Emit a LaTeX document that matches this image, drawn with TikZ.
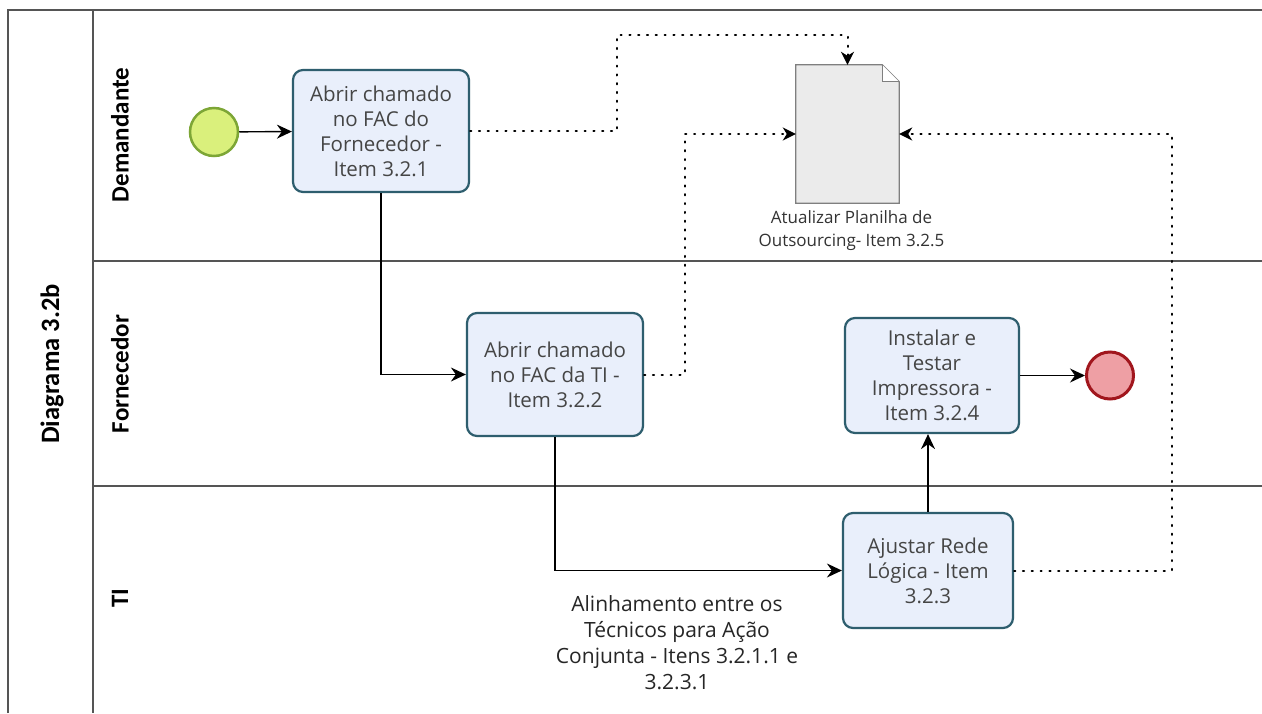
\documentclass[tikz,border=0pt]{standalone}
\usepackage{fontspec}
\setmainfont{Open Sans}
\newfontfamily\lanefont{Carlito}
\usetikzlibrary{arrows.meta,calc}

\definecolor{taskfill}{HTML}{E9EFFB}
\definecolor{taskdraw}{HTML}{2E5E6E}
\definecolor{tasktext}{HTML}{454545}
\definecolor{startfill}{HTML}{DAF07C}
\definecolor{startdraw}{HTML}{7DA636}
\definecolor{endfill}{HTML}{EE9FA4}
\definecolor{enddraw}{HTML}{A1161D}
\definecolor{docfill}{HTML}{EBEBEB}
\definecolor{docdraw}{HTML}{7F7F7F}
\definecolor{poolline}{HTML}{555555}

\tikzset{
  task/.style={draw=taskdraw, fill=taskfill, line width=2.2pt, rounded corners=10pt,
    align=center, text=tasktext, inner sep=0pt,
    font=\fontsize{20.5}{25}\selectfont},
  startev/.style={circle, draw=startdraw, fill=startfill, line width=2.5pt,
    minimum size=48pt, inner sep=0pt},
  endev/.style={circle, draw=enddraw, fill=endfill, line width=3pt,
    minimum size=47pt, inner sep=0pt},
  flow/.style={draw=black, line width=1.4pt,
    -{Stealth[length=15pt,width=14pt,inset=5pt]}},
  assoc/.style={draw=black, line width=2pt, line cap=round,
    dash pattern=on 1.2pt off 7.6pt,
    -{Stealth[length=13pt,width=13pt,inset=4pt]}},
  lane/.style={rotate=90, font=\lanefont\bfseries\fontsize{25}{28}\selectfont, text=black},
  lanesep/.style={draw=poolline, line width=1.2pt},
  notelabel/.style={align=center, text=black!85, font=\fontsize{21}{26}\selectfont},
  doclabel/.style={align=center, text=black!80, font=\fontsize{17}{23}\selectfont}
}

\begin{document}
\begin{tikzpicture}[x=1pt, y=-1pt]
  \useasboundingbox[fill=white] (0,0) rectangle (1262,713);

  % pool and lanes
  \draw[poolline, line width=2.2pt] (8,713) -- (8,10) -- (1262,10);
  \draw[lanesep] (93,10) -- (93,713);
  \draw[lanesep] (93,261) -- (1262,261);
  \draw[lanesep] (93,486) -- (1262,486);

  \node[lane, font=\lanefont\bfseries\fontsize{26.5}{28}\selectfont] (pool) at (52,364) {Diagrama 3.2b};
  \node[lane] (lanedem) at (120,135) {Demandante};
  \node[lane] (lanefor) at (120,374) {Fornecedor};
  \node[lane] (laneti) at (120,598) {TI};

  % events
  \node[startev] (start) at (214,132) {};
  \node[endev] (end) at (1110,375.5) {};

  % tasks
  \node[task, minimum width=176pt, minimum height=122pt] (t1) at (381,131)
    {Abrir chamado\\no FAC do\\Fornecedor -\\Item 3.2.1};
  \node[task, minimum width=176pt, minimum height=123pt] (t2) at (555,374.5)
    {Abrir chamado\\no FAC da TI -\\Item 3.2.2};
  \node[task, minimum width=174pt, minimum height=115pt] (t4) at (932,375.5)
    {Instalar e\\Testar\\Impressora -\\Item 3.2.4};
  \node[task, minimum width=170pt, minimum height=115pt] (t3) at (928,570.5)
    {Ajustar Rede\\L\'ogica - Item\\3.2.3};

  % data object
  \node[minimum width=103pt, minimum height=138pt, inner sep=0pt] (doc) at (847.5,134) {};
  \draw[draw=docdraw, fill=docfill, line width=1.3pt]
    (doc.north west) -- ($(doc.north east)+(-17,0)$) -- ($(doc.north east)+(0,17)$)
    -- (doc.south east) -- (doc.south west) -- cycle;
  \draw[draw=docdraw, fill=white, line width=1.1pt]
    ($(doc.north east)+(-17,0)$) -- ($(doc.north east)+(-17,17)$) -- ($(doc.north east)+(0,17)$);
  \node[doclabel, anchor=north] (doctext) at ($(doc.south)+(4,4)$)
    {Atualizar Planilha de\\Outsourcing- Item 3.2.5};

  % sequence flows
  \draw[flow] (start) -- (t1);
  \draw[flow] (t1.south) |- (t2.west);
  \draw[flow] (t2.south) |- (t3.west);
  \draw[flow] (t3.north) -- (t3.north |- t4.south);
  \draw[flow] (t4.east) -- (end.west);

  \node[notelabel] (note) at (677,643)
    {Alinhamento entre os\\T\'ecnicos para A\c{c}\~ao\\Conjunta - Itens 3.2.1.1 e\\3.2.3.1};

  % associations to the data object
  \coordinate (w1) at (617,35);
  \coordinate (w2) at (685,134);
  \coordinate (w3) at (1172,134);
  \draw[assoc] (t1.east) -| (w1) -| (doc.north);
  \draw[assoc] (t2.east) -| (w2) -- (doc.west);
  \draw[assoc] (t3.east) -| (w3) -- (doc.east);
\end{tikzpicture}
\end{document}
